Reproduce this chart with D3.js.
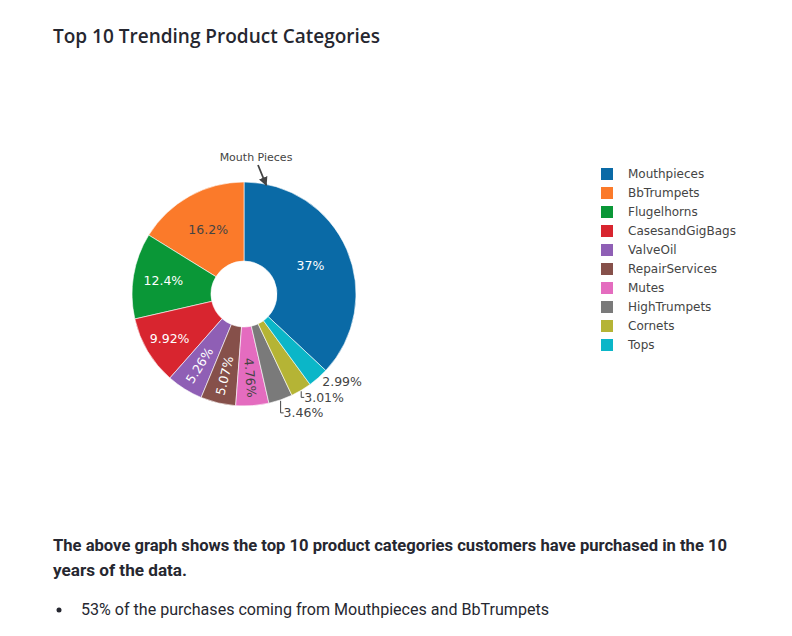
<!DOCTYPE html>
<html>
<head>
<meta charset="utf-8">
<script src="https://cdn.jsdelivr.net/npm/d3@7"></script>
<style>
  body { margin: 0; background: #fff; }
  svg text { font-family: "DejaVu Sans", Verdana, sans-serif; }
  .title { font-family: "Open Sans", sans-serif; font-weight: 600; font-size: 19px; fill: #262730; }
  .note { font-family: Roboto, sans-serif; fill: #262730; }
</style>
</head>
<body>
<div id="chart"></div>
<script>
const categories = ['Mouthpieces', 'BbTrumpets', 'Flugelhorns', 'CasesandGigBags', 'ValveOil',
                    'RepairServices', 'Mutes', 'HighTrumpets', 'Cornets', 'Tops'];
const shares = [37, 16.2, 12.4, 9.92, 5.26, 5.07, 4.76, 3.46, 3.01, 2.99];
const labels = ['37%', '16.2%', '12.4%', '9.92%', '5.26%', '5.07%', '4.76%', '3.46%', '3.01%', '2.99%'];
const colors = ['#0a6aa6', '#fb7a2a', '#0a9737', '#d8252f', '#8f5fb5',
                '#86504a', '#e46cbf', '#7a7a7a', '#b5b435', '#0bb6c8'];
// how each label sits: inside flat, inside radial, or outside
const labelModes = ['inside', 'inside', 'inside', 'inside', 'radial', 'radial', 'radial', 'outside', 'outside', 'outside'];

const width = 792, height = 636;
const cx = 244, cy = 294, outerR = 112, innerR = 33;

let svg = d3.select('#chart').append('svg')
    .attr('width', width)
    .attr('height', height);

svg.append('text')
    .attr('class', 'title')
    .attr('x', 53).attr('y', 43)
    .text('Top 10 Trending Product Categories');

// Slices go counter-clockwise, first slice ending at 12 o'clock
let total = d3.sum(shares);
let start = shares[0] / total * 2 * Math.PI;
let pie = d3.pie().sort(null).value(d => d.value)
    .startAngle(start).endAngle(start - 2 * Math.PI);

let data = categories.map((c, i) => ({ name: c, value: shares[i], label: labels[i], color: colors[i], mode: labelModes[i] }));
let arcs = pie(data);

let arc = d3.arc().innerRadius(innerR).outerRadius(outerR);

let g = svg.append('g').attr('transform', `translate(${cx},${cy})`);

g.selectAll('path.slice')
    .data(arcs)
    .enter().append('path')
    .attr('class', 'slice')
    .attr('d', arc)
    .attr('fill', d => d.data.color)
    .attr('stroke', '#fff')
    .attr('stroke-width', 0.6);

function textColor(c) {
    let rgb = d3.rgb(c);
    return (rgb.r * 299 + rgb.g * 587 + rgb.b * 114) / 1000 > 128 ? '#444' : '#fff';
}

function midAngle(d) { return (d.startAngle + d.endAngle) / 2; }

// narrower slices push their flat label further out, where there is room
function insideRadius(d) {
    let deg = Math.abs(d.endAngle - d.startAngle) * 180 / Math.PI;
    let mid = (innerR + outerR) / 2;
    return mid + Math.max(0, Math.min(14, (60 - deg) * 0.6));
}

g.selectAll('text.inside')
    .data(arcs.filter(d => d.data.mode === 'inside'))
    .enter().append('text')
    .attr('class', 'inside')
    .attr('transform', d => {
        let a = midAngle(d), r = insideRadius(d);
        return `translate(${r * Math.sin(a)},${-r * Math.cos(a)})`;
    })
    .attr('text-anchor', 'middle')
    .attr('dy', '0.36em')
    .attr('font-size', 12.5)
    .attr('fill', d => textColor(d.data.color))
    .text(d => d.data.label);

// radial inside labels
let radialR = 84;
g.selectAll('text.radial')
    .data(arcs.filter(d => d.data.mode === 'radial'))
    .enter().append('text')
    .attr('class', 'radial')
    .attr('transform', d => {
        let a = midAngle(d);
        let x = radialR * Math.sin(a), y = -radialR * Math.cos(a);
        let rot = a * 180 / Math.PI - 90;
        while (rot > 90) rot -= 180;
        while (rot < -90) rot += 180;
        return `translate(${x},${y}) rotate(${rot})`;
    })
    .attr('text-anchor', 'middle')
    .attr('dy', '0.36em')
    .attr('font-size', 12.5)
    .attr('fill', d => textColor(d.data.color))
    .text(d => d.data.label);

// outside labels, stacked downward starting from the highest slice
let outside = arcs.filter(d => d.data.mode === 'outside')
    .sort((a, b) => midAngle(a) - midAngle(b));
let prevY = -Infinity;
outside.forEach(d => {
    let a = midAngle(d);
    d.px = outerR * Math.sin(a);
    d.py = -outerR * Math.cos(a);
    d.ly = Math.max(d.py + 4, prevY + 15.5);
    prevY = d.ly;
});

g.selectAll('path.leader')
    .data(outside.filter(d => d.ly - d.py > 6))
    .enter().append('path')
    .attr('class', 'leader')
    .attr('d', d => `M${d.px},${d.py + 1}V${d.ly}h3`)
    .attr('fill', 'none')
    .attr('stroke', '#444')
    .attr('stroke-width', 1);

g.selectAll('text.outside')
    .data(outside)
    .enter().append('text')
    .attr('class', 'outside')
    .attr('x', d => d.px + (d.ly - d.py > 6 ? 3 : 4))
    .attr('y', d => d.ly)
    .attr('dy', '0.36em')
    .attr('font-size', 12.5)
    .attr('fill', '#444')
    .text(d => d.data.label);

// annotation with arrow
svg.append('defs').append('marker')
    .attr('id', 'arrow')
    .attr('viewBox', '0 0 10 10')
    .attr('refX', 9).attr('refY', 5)
    .attr('markerWidth', 5).attr('markerHeight', 5)
    .attr('orient', 'auto')
    .append('path')
    .attr('d', 'M0,0L10,5L0,10z')
    .attr('fill', '#444');

let tipAngle = 0.2;
let tip = [cx + outerR * Math.sin(tipAngle), cy - outerR * Math.cos(tipAngle)];
svg.append('line')
    .attr('x1', 258).attr('y1', 165)
    .attr('x2', tip[0]).attr('y2', tip[1] + 1)
    .attr('stroke', '#444')
    .attr('stroke-width', 1.8)
    .attr('marker-end', 'url(#arrow)');

svg.append('text')
    .attr('x', 256).attr('y', 161)
    .attr('text-anchor', 'middle')
    .attr('font-size', 11)
    .attr('fill', '#444')
    .text('Mouth Pieces');

// legend
let legend = svg.append('g')
    .attr('transform', 'translate(601,174)')
    .selectAll('g')
    .data(data)
    .enter().append('g')
    .attr('transform', (d, i) => `translate(0,${i * 19})`);

legend.append('rect')
    .attr('x', 0).attr('y', -6)
    .attr('width', 12).attr('height', 12)
    .attr('fill', d => d.color);

legend.append('text')
    .attr('x', 27).attr('dy', '0.36em')
    .attr('font-size', 12)
    .attr('fill', '#444')
    .text(d => d.name);

// notes below the chart
svg.append('text')
    .attr('class', 'note')
    .attr('x', 53).attr('y', 551)
    .attr('font-size', 16).attr('font-weight', 700)
    .attr('textLength', 674).attr('lengthAdjust', 'spacingAndGlyphs')
    .text('The above graph shows the top 10 product categories customers have purchased in the 10');

svg.append('text')
    .attr('class', 'note')
    .attr('x', 53).attr('y', 576)
    .attr('font-size', 16).attr('font-weight', 700)
    .attr('textLength', 134).attr('lengthAdjust', 'spacingAndGlyphs')
    .text('years of the data.');

svg.append('circle')
    .attr('cx', 59).attr('cy', 610)
    .attr('r', 2.5)
    .attr('fill', '#262730');

svg.append('text')
    .attr('class', 'note')
    .attr('x', 81).attr('y', 615)
    .attr('font-size', 16)
    .attr('textLength', 468).attr('lengthAdjust', 'spacingAndGlyphs')
    .text('53% of the purchases coming from Mouthpieces and BbTrumpets');
</script>
</body>
</html>
